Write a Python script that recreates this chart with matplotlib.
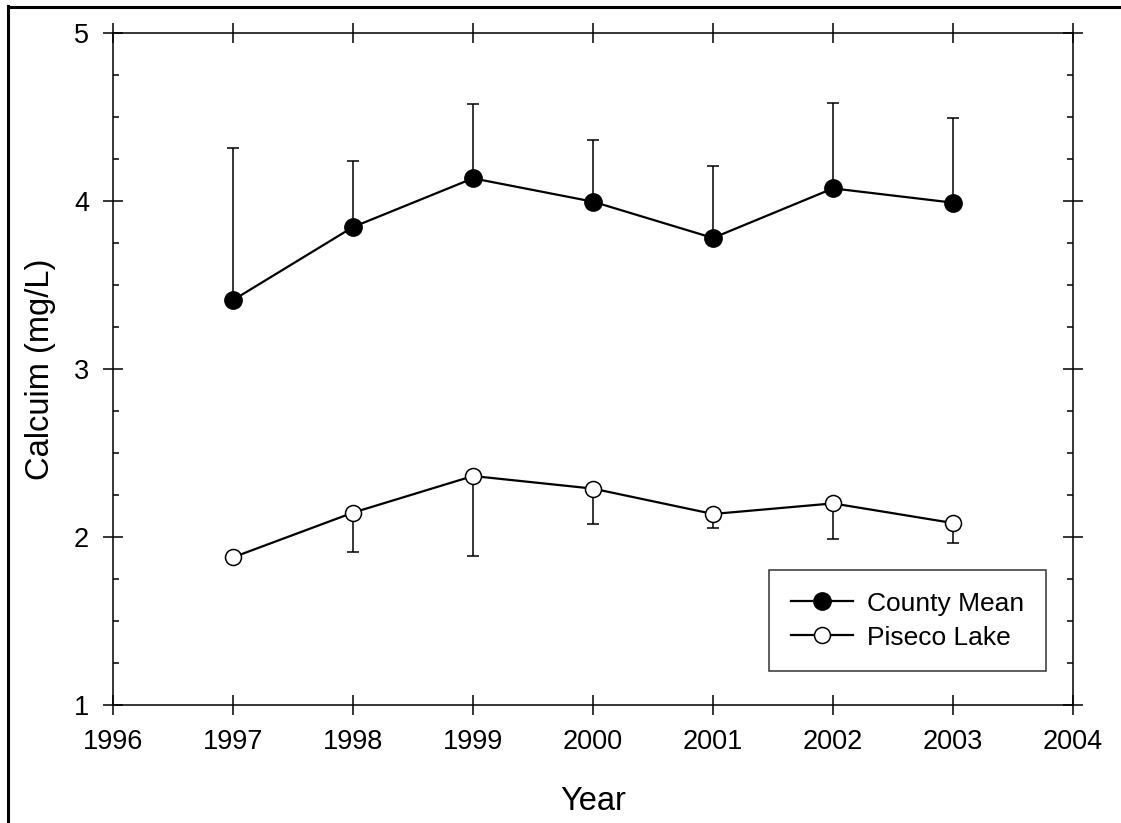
import matplotlib
matplotlib.use("Agg")
import matplotlib.pyplot as plt
from matplotlib.lines import Line2D
from matplotlib.ticker import MultipleLocator

plt.rcParams['font.family'] = ['Liberation Sans', 'DejaVu Sans']

years = [1997, 1998, 1999, 2000, 2001, 2002, 2003]
county_mean = [3.41, 3.845, 4.135, 3.996, 3.78, 4.075, 3.99]
county_upper = [4.315, 4.24, 4.576, 4.365, 4.21, 4.585, 4.496]
piseco = [1.879, 2.145, 2.363, 2.288, 2.137, 2.20, 2.083]
piseco_lower = [1.879, 1.913, 1.889, 2.077, 2.054, 1.988, 1.964]

xticks = [1996, 1997, 1998, 1999, 2000, 2001, 2002, 2003, 2004]
yticks = [1, 2, 3, 4, 5]

fig = plt.figure(figsize=(11.21, 8.23), dpi=100)
ax = fig.add_axes([113/1121, 118/823, 960/1121, 672/823])

c_err = [[0]*len(years), [u - m for u, m in zip(county_upper, county_mean)]]
p_err = [[m - l for m, l in zip(piseco, piseco_lower)], [0]*len(years)]

ax.errorbar(years, county_mean, yerr=c_err, fmt='none', ecolor='black',
            elinewidth=1.1, capsize=4.5, capthick=1.1, zorder=2)
ax.errorbar(years, piseco, yerr=p_err, fmt='none', ecolor='black',
            elinewidth=1.1, capsize=4.5, capthick=1.1, zorder=2)

ax.plot(years, county_mean, color='black', lw=1.6, marker='o', ms=12.5,
        mfc='black', mec='black', label='County Mean', zorder=3)
ax.plot(years, piseco, color='black', lw=1.6, marker='o', ms=11.5,
        mfc='white', mec='black', mew=1.1, label='Piseco Lake', zorder=3)

ax.set_xlim(1996, 2004)
ax.set_ylim(1, 5)
ax.set_xticks(xticks)
ax.set_yticks(yticks)
ax.yaxis.set_minor_locator(MultipleLocator(0.25))
ax.tick_params(axis='both', which='major', direction='inout', length=14.4,
               width=1.1, labelsize=19.5, pad=10, top=True, right=True)
ax.tick_params(axis='y', which='minor', direction='in', length=4.3,
               width=1.1, left=True, right=True)
for s in ax.spines.values():
    s.set_linewidth(1.1)

ax.set_xlabel('Year', fontsize=23.5, labelpad=22.5)
ax.set_ylabel('Calcuim (mg/L)', fontsize=23.5, labelpad=13)

leg = ax.legend(loc='upper left', bbox_to_anchor=((769-113)/960, (705-570)/672),
                borderaxespad=0, fontsize=19, frameon=True, fancybox=False,
                edgecolor='black', handlelength=2.35, handletextpad=0.55,
                borderpad=0.82, labelspacing=0.38)
leg.get_frame().set_linewidth(1.1)

# figure frame
fig.add_artist(Line2D([8/1121, 8/1121], [0, 1 - 6/823], transform=fig.transFigure,
                      color='black', lw=2.2))
fig.add_artist(Line2D([8/1121, 1], [1 - 7/823, 1 - 7/823], transform=fig.transFigure,
                      color='black', lw=2.2))

fig.savefig('out.png', dpi=100)
